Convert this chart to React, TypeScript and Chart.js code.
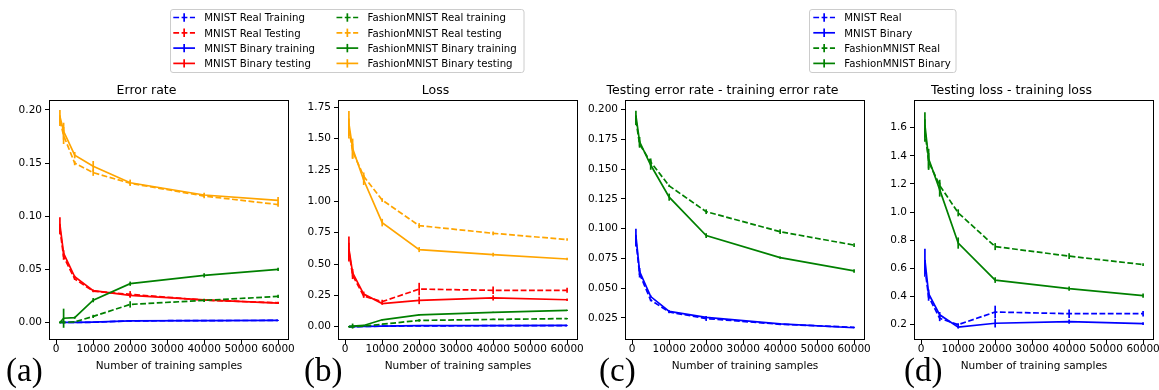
import React, { useEffect, useRef } from 'react';
import { Chart, registerables } from 'chart.js';

Chart.register(...registerables);
Chart.defaults.font.family = "'DejaVu Sans', sans-serif";

// ---------- data ----------
const SAMPLES = [1000, 2000, 5000, 10000, 20000, 40000, 60000];
const X_TICKS = [0, 10000, 20000, 30000, 40000, 50000, 60000];

// (a) Error rate
const A_MNIST_REAL_TRAIN = [0.0, 0.0, 0.0, 0.0002, 0.0015, 0.0018, 0.0019];
const A_MNIST_REAL_TRAIN_SD = [0.0003, 0.0003, 0.0002, 0.0002, 0.0008, 0.0003, 0.0003];
const A_MNIST_REAL_TEST = [0.088, 0.062, 0.041, 0.0295, 0.0265, 0.021, 0.0185];
const A_MNIST_REAL_TEST_SD = [0.005, 0.003, 0.001, 0.001, 0.003, 0.001, 0.001];
const A_MNIST_BIN_TRAIN = [0.0, 0.0, 0.0, 0.0003, 0.0015, 0.0018, 0.002];
const A_MNIST_BIN_TRAIN_SD = [0.0003, 0.0003, 0.0002, 0.0003, 0.0005, 0.0003, 0.0003];
const A_MNIST_BIN_TEST = [0.092, 0.065, 0.043, 0.03, 0.0255, 0.0212, 0.0183];
const A_MNIST_BIN_TEST_SD = [0.007, 0.003, 0.001, 0.001, 0.002, 0.001, 0.001];
const A_FASHION_REAL_TRAIN = [0.0, 0.0, 0.0005, 0.0057, 0.017, 0.0208, 0.0245];
const A_FASHION_REAL_TRAIN_SD = [0.0005, 0.001, 0.0005, 0.0015, 0.003, 0.0015, 0.0015];
const A_FASHION_REAL_TEST = [0.19, 0.176, 0.15, 0.141, 0.131, 0.119, 0.111];
const A_FASHION_REAL_TEST_SD = [0.005, 0.008, 0.002, 0.003, 0.002, 0.002, 0.002];
const A_FASHION_BIN_TRAIN = [0.0, 0.004, 0.0045, 0.021, 0.0365, 0.0443, 0.05];
const A_FASHION_BIN_TRAIN_SD = [0.001, 0.009, 0.001, 0.002, 0.002, 0.002, 0.0015];
const A_FASHION_BIN_TEST = [0.194, 0.18, 0.1575, 0.147, 0.1315, 0.12, 0.115];
const A_FASHION_BIN_TEST_SD = [0.006, 0.008, 0.003, 0.005, 0.003, 0.002, 0.003];
const A_Y_TICKS = [0.0, 0.05, 0.1, 0.15, 0.2];

// (b) Loss
const B_MNIST_REAL_TRAIN = [0.0, 0.0, 0.002, 0.004, 0.007, 0.008, 0.009];
const B_MNIST_REAL_TRAIN_SD = [0.002, 0.002, 0.002, 0.002, 0.003, 0.002, 0.002];
const B_MNIST_REAL_TEST = [0.6, 0.41, 0.245, 0.2, 0.3, 0.29, 0.29];
const B_MNIST_REAL_TEST_SD = [0.07, 0.03, 0.015, 0.015, 0.05, 0.03, 0.02];
const B_MNIST_BIN_TRAIN = [0.0, 0.0, 0.002, 0.005, 0.008, 0.009, 0.01];
const B_MNIST_BIN_TRAIN_SD = [0.002, 0.002, 0.002, 0.002, 0.002, 0.002, 0.002];
const B_MNIST_BIN_TEST = [0.62, 0.43, 0.26, 0.185, 0.21, 0.23, 0.215];
const B_MNIST_BIN_TEST_SD = [0.1, 0.03, 0.02, 0.01, 0.03, 0.02, 0.01];
const B_FASHION_REAL_TRAIN = [0.0, 0.0, 0.005, 0.02, 0.05, 0.058, 0.065];
const B_FASHION_REAL_TRAIN_SD = [0.005, 0.005, 0.003, 0.003, 0.01, 0.005, 0.005];
const B_FASHION_REAL_TEST = [1.58, 1.4, 1.2, 1.01, 0.806, 0.745, 0.695];
const B_FASHION_REAL_TEST_SD = [0.08, 0.06, 0.03, 0.015, 0.02, 0.015, 0.01];
const B_FASHION_BIN_TRAIN = [0.0, 0.005, 0.01, 0.055, 0.095, 0.115, 0.13];
const B_FASHION_BIN_TRAIN_SD = [0.005, 0.02, 0.005, 0.005, 0.005, 0.005, 0.005];
const B_FASHION_BIN_TEST = [1.62, 1.42, 1.17, 0.83, 0.615, 0.575, 0.54];
const B_FASHION_BIN_TEST_SD = [0.1, 0.08, 0.04, 0.03, 0.02, 0.015, 0.01];
const B_Y_TICKS = [0.0, 0.25, 0.5, 0.75, 1.0, 1.25, 1.5, 1.75];

// (c) Testing error rate - training error rate
const C_MNIST_REAL = [0.09, 0.062, 0.04, 0.03, 0.0245, 0.0197, 0.0172];
const C_MNIST_REAL_SD = [0.005, 0.003, 0.001, 0.001, 0.002, 0.0005, 0.0005];
const C_MNIST_BIN = [0.094, 0.064, 0.043, 0.0305, 0.0255, 0.02, 0.0168];
const C_MNIST_BIN_SD = [0.006, 0.003, 0.001, 0.001, 0.001, 0.0005, 0.0005];
const C_FASHION_REAL = [0.191, 0.171, 0.156, 0.136, 0.1143, 0.0975, 0.0862];
const C_FASHION_REAL_SD = [0.004, 0.003, 0.003, 0.001, 0.002, 0.002, 0.0015];
const C_FASHION_BIN = [0.195, 0.173, 0.1535, 0.1265, 0.0942, 0.0757, 0.0645];
const C_FASHION_BIN_SD = [0.004, 0.004, 0.004, 0.003, 0.002, 0.001, 0.0015];
const C_Y_TICKS = [0.025, 0.05, 0.075, 0.1, 0.125, 0.15, 0.175, 0.2];

// (d) Testing loss - training loss
const D_MNIST_REAL = [0.6, 0.4, 0.245, 0.2, 0.29, 0.278, 0.278];
const D_MNIST_REAL_SD = [0.06, 0.03, 0.02, 0.01, 0.045, 0.03, 0.02];
const D_MNIST_BIN = [0.66, 0.42, 0.27, 0.182, 0.21, 0.222, 0.207];
const D_MNIST_BIN_SD = [0.08, 0.03, 0.02, 0.01, 0.03, 0.015, 0.01];
const D_FASHION_REAL = [1.58, 1.36, 1.19, 0.995, 0.755, 0.687, 0.627];
const D_FASHION_REAL_SD = [0.08, 0.06, 0.04, 0.025, 0.025, 0.02, 0.01];
const D_FASHION_BIN = [1.62, 1.38, 1.16, 0.78, 0.517, 0.456, 0.407];
const D_FASHION_BIN_SD = [0.09, 0.07, 0.05, 0.04, 0.02, 0.015, 0.015];
const D_Y_TICKS = [0.2, 0.4, 0.6, 0.8, 1.0, 1.2, 1.4, 1.6];

// ---------- styles ----------
const BLUE = '#0000ff';
const RED = '#ff0000';
const GREEN = '#008000';
const ORANGE = '#ffa500';
const X_MIN = -1950;
const X_MAX = 62950;

type Series = { label: string; values: number[]; sd: number[]; color: string; dashed: boolean };

const SERIES_A: Series[] = [
  { label: 'MNIST Real Training', values: A_MNIST_REAL_TRAIN, sd: A_MNIST_REAL_TRAIN_SD, color: BLUE, dashed: true },
  { label: 'MNIST Real Testing', values: A_MNIST_REAL_TEST, sd: A_MNIST_REAL_TEST_SD, color: RED, dashed: true },
  { label: 'MNIST Binary training', values: A_MNIST_BIN_TRAIN, sd: A_MNIST_BIN_TRAIN_SD, color: BLUE, dashed: false },
  { label: 'MNIST Binary testing', values: A_MNIST_BIN_TEST, sd: A_MNIST_BIN_TEST_SD, color: RED, dashed: false },
  { label: 'FashionMNIST Real training', values: A_FASHION_REAL_TRAIN, sd: A_FASHION_REAL_TRAIN_SD, color: GREEN, dashed: true },
  { label: 'FashionMNIST Real testing', values: A_FASHION_REAL_TEST, sd: A_FASHION_REAL_TEST_SD, color: ORANGE, dashed: true },
  { label: 'FashionMNIST Binary training', values: A_FASHION_BIN_TRAIN, sd: A_FASHION_BIN_TRAIN_SD, color: GREEN, dashed: false },
  { label: 'FashionMNIST Binary testing', values: A_FASHION_BIN_TEST, sd: A_FASHION_BIN_TEST_SD, color: ORANGE, dashed: false },
];

const SERIES_B: Series[] = [
  { label: 'MNIST Real Training', values: B_MNIST_REAL_TRAIN, sd: B_MNIST_REAL_TRAIN_SD, color: BLUE, dashed: true },
  { label: 'MNIST Real Testing', values: B_MNIST_REAL_TEST, sd: B_MNIST_REAL_TEST_SD, color: RED, dashed: true },
  { label: 'MNIST Binary training', values: B_MNIST_BIN_TRAIN, sd: B_MNIST_BIN_TRAIN_SD, color: BLUE, dashed: false },
  { label: 'MNIST Binary testing', values: B_MNIST_BIN_TEST, sd: B_MNIST_BIN_TEST_SD, color: RED, dashed: false },
  { label: 'FashionMNIST Real training', values: B_FASHION_REAL_TRAIN, sd: B_FASHION_REAL_TRAIN_SD, color: GREEN, dashed: true },
  { label: 'FashionMNIST Real testing', values: B_FASHION_REAL_TEST, sd: B_FASHION_REAL_TEST_SD, color: ORANGE, dashed: true },
  { label: 'FashionMNIST Binary training', values: B_FASHION_BIN_TRAIN, sd: B_FASHION_BIN_TRAIN_SD, color: GREEN, dashed: false },
  { label: 'FashionMNIST Binary testing', values: B_FASHION_BIN_TEST, sd: B_FASHION_BIN_TEST_SD, color: ORANGE, dashed: false },
];

const SERIES_C: Series[] = [
  { label: 'MNIST Real', values: C_MNIST_REAL, sd: C_MNIST_REAL_SD, color: BLUE, dashed: true },
  { label: 'MNIST Binary', values: C_MNIST_BIN, sd: C_MNIST_BIN_SD, color: BLUE, dashed: false },
  { label: 'FashionMNIST Real', values: C_FASHION_REAL, sd: C_FASHION_REAL_SD, color: GREEN, dashed: true },
  { label: 'FashionMNIST Binary', values: C_FASHION_BIN, sd: C_FASHION_BIN_SD, color: GREEN, dashed: false },
];

const SERIES_D: Series[] = [
  { label: 'MNIST Real', values: D_MNIST_REAL, sd: D_MNIST_REAL_SD, color: BLUE, dashed: true },
  { label: 'MNIST Binary', values: D_MNIST_BIN, sd: D_MNIST_BIN_SD, color: BLUE, dashed: false },
  { label: 'FashionMNIST Real', values: D_FASHION_REAL, sd: D_FASHION_REAL_SD, color: GREEN, dashed: true },
  { label: 'FashionMNIST Binary', values: D_FASHION_BIN, sd: D_FASHION_BIN_SD, color: GREEN, dashed: false },
];

const LINE_W = 1.7;
const DASH = [5.8, 2.5];

const errorBarPlugin = {
  id: 'errorBars',
  afterDatasetDraw(chart: any, args: any) {
    const ds: any = chart.data.datasets[args.index];
    const errs: number[] = ds.errors;
    if (!errs) return;
    const { ctx, chartArea } = chart;
    const xs = chart.scales.x;
    const ys = chart.scales.y;
    ctx.save();
    ctx.beginPath();
    ctx.rect(chartArea.left, chartArea.top, chartArea.right - chartArea.left, chartArea.bottom - chartArea.top);
    ctx.clip();
    ctx.strokeStyle = ds.borderColor;
    ctx.lineWidth = ds.borderWidth;
    ctx.setLineDash([]);
    ds.data.forEach((p: any, j: number) => {
      const px = xs.getPixelForValue(p.x);
      ctx.beginPath();
      ctx.moveTo(px, ys.getPixelForValue(p.y - errs[j]));
      ctx.lineTo(px, ys.getPixelForValue(p.y + errs[j]));
      ctx.stroke();
    });
    ctx.restore();
  },
};

const framePlugin = {
  id: 'frame',
  afterDraw(chart: any) {
    const { ctx, chartArea } = chart;
    ctx.save();
    ctx.strokeStyle = '#000';
    ctx.lineWidth = 1;
    const l = Math.round(chartArea.left) + 0.5;
    const t = Math.round(chartArea.top) + 0.5;
    const r = Math.round(chartArea.right) - 0.5;
    const b = Math.round(chartArea.bottom) - 0.5;
    ctx.strokeRect(l, t, r - l, b - t);
    ctx.restore();
  },
};

type PanelProps = {
  left: number;
  width: number;
  padRight: number;
  title: string;
  series: Series[];
  yMin: number;
  yMax: number;
  yTicks: number[];
  decimals: number;
};

const CANVAS_TOP = 80;
const CANVAS_H = 294;
const Y_AXIS_W = 45;
const X_AXIS_H = 34;

function Panel({ left, width, padRight, title, series, yMin, yMax, yTicks, decimals }: PanelProps) {
  const ref = useRef<HTMLCanvasElement>(null);
  useEffect(() => {
    const canvas = ref.current;
    if (!canvas) return;
    const n = series.length;
    const chart = new Chart(canvas, {
      type: 'line',
      data: {
        datasets: series.map((s, i) => ({
          label: s.label,
          data: SAMPLES.map((x, j) => ({ x, y: s.values[j] })),
          errors: s.sd,
          borderColor: s.color,
          backgroundColor: s.color,
          borderWidth: LINE_W,
          borderDash: s.dashed ? DASH : [],
          pointRadius: 0,
          pointHoverRadius: 0,
          tension: 0,
          fill: false,
          order: n - i,
        })) as any,
      },
      options: {
        responsive: false,
        animation: false,
        devicePixelRatio: 1,
        events: [],
        layout: { padding: { left: 0, top: 0, right: padRight, bottom: 0 } },
        plugins: {
          legend: { display: false },
          tooltip: { enabled: false },
          title: {
            display: true,
            text: title,
            color: '#000',
            font: { size: 12.5, lineHeight: 1.2, weight: 'normal' },
            padding: { top: 3, bottom: 2 },
          },
        },
        scales: {
          x: {
            type: 'linear',
            min: X_MIN,
            max: X_MAX,
            afterBuildTicks: (s: any) => {
              s.ticks = X_TICKS.map((v) => ({ value: v }));
            },
            afterFit: (s: any) => {
              s.height = X_AXIS_H;
              s.paddingLeft = 0;
              s.paddingRight = 0;
            },
            ticks: {
              autoSkip: false,
              maxRotation: 0,
              minRotation: 0,
              padding: 0,
              color: '#000',
              font: { size: 10.5, lineHeight: 1 },
              callback: (v: any) => String(v),
            },
            grid: { drawOnChartArea: false, drawTicks: true, tickLength: 4, color: '#000', lineWidth: 1 },
            border: { display: false },
            title: {
              display: true,
              text: 'Number of training samples',
              color: '#000',
              font: { size: 10.5, lineHeight: 1.2 },
              padding: { top: 0, bottom: 1.5 },
            },
          },
          y: {
            type: 'linear',
            min: yMin,
            max: yMax,
            afterBuildTicks: (s: any) => {
              s.ticks = yTicks.map((v) => ({ value: v }));
            },
            afterFit: (s: any) => {
              s.width = Y_AXIS_W;
              s.paddingTop = 0;
              s.paddingBottom = 0;
            },
            ticks: {
              autoSkip: false,
              padding: 3,
              color: '#000',
              font: { size: 10.5 },
              callback: (v: any) => Number(v).toFixed(decimals),
            },
            grid: { drawOnChartArea: false, drawTicks: true, tickLength: 4, color: '#000', lineWidth: 1 },
            border: { display: false },
          },
        },
      } as any,
      plugins: [errorBarPlugin, framePlugin],
    });
    return () => chart.destroy();
  }, []);
  return (
    <canvas
      ref={ref}
      width={width}
      height={CANVAS_H}
      style={{ position: 'absolute', left, top: CANVAS_TOP, width, height: CANVAS_H }}
    />
  );
}

function LegendEntry({ x, y, s }: { x: number; y: number; s: Series }) {
  const len = 21.7;
  return (
    <g>
      <line
        x1={x}
        y1={y}
        x2={x + len}
        y2={y}
        stroke={s.color}
        strokeWidth={LINE_W}
        strokeDasharray={s.dashed ? DASH.join(' ') : undefined}
      />
      <line x1={x + len / 2} y1={y - 4.2} x2={x + len / 2} y2={y + 4.2} stroke={s.color} strokeWidth={LINE_W} />
      <text x={x + 31} y={y + 3.7} fontFamily="'DejaVu Sans', sans-serif" fontSize={10.2} fill="#000">
        {s.label}
      </text>
    </g>
  );
}

const ROW_Y = [17.5, 32.8, 48.1, 63.4];

function Overlay() {
  const serif = "'Liberation Serif', 'DejaVu Serif', serif";
  return (
    <svg width={1159} height={390} style={{ position: 'absolute', left: 0, top: 0, pointerEvents: 'none' }}>
      <rect x={170.5} y={9.5} width={353.5} height={63} rx={2.5} fill="#fff" stroke="#cccccc" strokeWidth={1} />
      {SERIES_A.slice(0, 4).map((s, i) => (
        <LegendEntry key={'l1' + i} x={173.3} y={ROW_Y[i]} s={s} />
      ))}
      {SERIES_A.slice(4, 8).map((s, i) => (
        <LegendEntry key={'l2' + i} x={336.5} y={ROW_Y[i]} s={s} />
      ))}
      <rect x={809.5} y={9.5} width={146.5} height={63} rx={2.5} fill="#fff" stroke="#cccccc" strokeWidth={1} />
      {SERIES_C.map((s, i) => (
        <LegendEntry key={'r' + i} x={813.3} y={ROW_Y[i]} s={s} />
      ))}
      <text x={6} y={381} fontFamily={serif} fontSize={33} fill="#000">(a)</text>
      <text x={304} y={381} fontFamily={serif} fontSize={33} fill="#000">(b)</text>
      <text x={599} y={381} fontFamily={serif} fontSize={33} fill="#000">(c)</text>
      <text x={904} y={381} fontFamily={serif} fontSize={33} fill="#000">(d)</text>
    </svg>
  );
}

export default function App() {
  return (
    <div style={{ position: 'fixed', left: 0, top: 0, width: 1159, height: 390, overflow: 'hidden', background: '#fff' }}>
      <Panel left={4} width={310} padRight={25} title="Error rate" series={SERIES_A} yMin={-0.0165} yMax={0.2094} yTicks={A_Y_TICKS} decimals={2} />
      <Panel left={293} width={310} padRight={25} title="Loss" series={SERIES_B} yMin={-0.106} yMax={1.808} yTicks={B_Y_TICKS} decimals={2} />
      <Panel left={580} width={310} padRight={25} title="Testing error rate - training error rate" series={SERIES_C} yMin={0.0065} yMax={0.2081} yTicks={C_Y_TICKS} decimals={3} />
      <Panel left={869} width={290} padRight={5} title="Testing loss - training loss" series={SERIES_D} yMin={0.091} yMax={1.797} yTicks={D_Y_TICKS} decimals={1} />
      <Overlay />
    </div>
  );
}
